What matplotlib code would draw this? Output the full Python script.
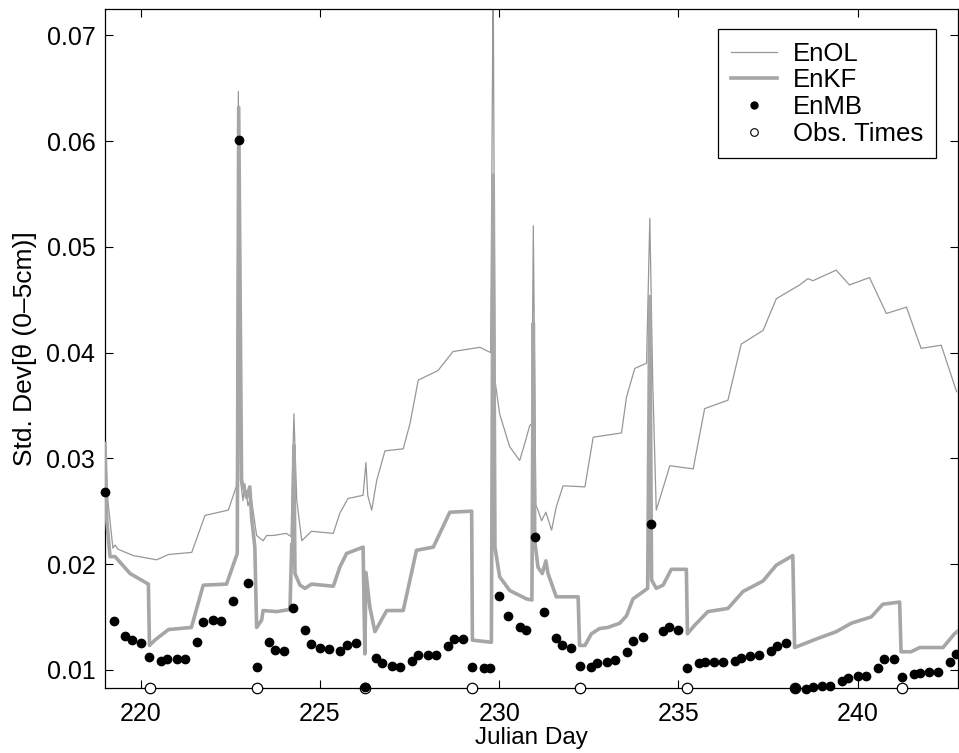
import matplotlib
matplotlib.use("Agg")
import matplotlib.pyplot as plt
from matplotlib.lines import Line2D

plt.rcParams['font.family'] = ['Liberation Sans', 'DejaVu Sans']

# open-loop ensemble spread
enol_day = [219.00, 219.08, 219.22, 219.28, 219.36, 219.79, 220.44, 220.77, 221.42, 221.79,
            222.44, 222.67, 222.72, 222.78, 222.85, 222.90, 222.99, 223.07, 223.23, 223.41,
            223.51, 223.69, 224.06, 224.19, 224.27, 224.35, 224.49, 224.76, 225.37, 225.55,
            225.78, 226.20, 226.28, 226.33, 226.44, 226.58, 226.81, 227.32, 227.51, 227.74,
            228.29, 228.71, 229.46, 229.76, 229.83, 229.88, 230.01, 230.29, 230.57, 230.71,
            230.85, 230.91, 230.95, 231.02, 231.08, 231.18, 231.30, 231.46, 231.59, 231.78,
            232.39, 232.62, 233.41, 233.55, 233.78, 234.11, 234.20, 234.28, 234.38, 234.76,
            235.41, 235.73, 236.38, 236.75, 237.36, 237.73, 238.38, 238.61, 238.75, 239.40,
            239.77, 240.33, 240.80, 241.36, 241.77, 242.33, 242.76]
enol_std = [0.0315, 0.0260, 0.0215, 0.0218, 0.0214, 0.0208, 0.0204, 0.0209, 0.0211, 0.0246,
            0.0251, 0.0274, 0.0647, 0.0279, 0.0260, 0.0276, 0.0255, 0.0265, 0.0227, 0.0222,
            0.0227, 0.0227, 0.0229, 0.0226, 0.0342, 0.0260, 0.0222, 0.0231, 0.0229, 0.0248,
            0.0262, 0.0265, 0.0296, 0.0265, 0.0251, 0.0279, 0.0307, 0.0309, 0.0333, 0.0374,
            0.0383, 0.0401, 0.0405, 0.0400, 0.0760, 0.0374, 0.0342, 0.0311, 0.0298, 0.0314,
            0.0331, 0.0333, 0.0520, 0.0256, 0.0251, 0.0241, 0.0249, 0.0232, 0.0254, 0.0274,
            0.0273, 0.0320, 0.0324, 0.0358, 0.0385, 0.0390, 0.0527, 0.0374, 0.0251, 0.0293,
            0.0290, 0.0347, 0.0355, 0.0408, 0.0421, 0.0451, 0.0464, 0.0470, 0.0468, 0.0478,
            0.0464, 0.0471, 0.0437, 0.0443, 0.0404, 0.0407, 0.0363]

# ensemble Kalman filter spread
enkf_day = [219.00, 219.05, 219.14, 219.28, 219.70, 220.21, 220.24, 220.39, 220.77, 221.41,
            221.74, 222.39, 222.69, 222.73, 222.81, 222.95, 223.04, 223.09, 223.18, 223.23,
            223.37, 223.41, 223.79, 224.16, 224.21, 224.23, 224.27, 224.30, 224.44, 224.58,
            224.76, 225.37, 225.55, 225.74, 226.20, 226.25, 226.28, 226.39, 226.53, 226.86,
            227.32, 227.69, 228.16, 228.62, 229.23, 229.25, 229.78, 229.83, 229.88, 230.01,
            230.29, 230.76, 230.91, 230.95, 230.99, 231.08, 231.20, 231.30, 231.36, 231.59,
            232.20, 232.24, 232.39, 232.57, 232.80, 233.03, 233.36, 233.55, 233.73, 234.06,
            234.14, 234.20, 234.25, 234.38, 234.57, 234.80, 235.22, 235.25, 235.45, 235.82,
            236.38, 236.80, 237.36, 237.73, 238.19, 238.24, 238.84, 239.40, 239.82, 240.38,
            240.70, 241.17, 241.21, 241.49, 241.73, 242.38, 242.70, 242.81]
enkf_std = [0.0314, 0.0241, 0.0207, 0.0207, 0.0191, 0.0181, 0.0123, 0.0128, 0.0138, 0.0140,
            0.0180, 0.0181, 0.0210, 0.0632, 0.0279, 0.0263, 0.0273, 0.0244, 0.0216, 0.0140,
            0.0147, 0.0156, 0.0155, 0.0157, 0.0219, 0.0203, 0.0312, 0.0191, 0.0180, 0.0177,
            0.0181, 0.0179, 0.0197, 0.0210, 0.0216, 0.0115, 0.0192, 0.0159, 0.0136, 0.0156,
            0.0156, 0.0213, 0.0216, 0.0249, 0.0250, 0.0128, 0.0126, 0.0568, 0.0216, 0.0188,
            0.0175, 0.0167, 0.0166, 0.0428, 0.0222, 0.0197, 0.0191, 0.0203, 0.0191, 0.0169,
            0.0169, 0.0123, 0.0123, 0.0134, 0.0139, 0.0140, 0.0144, 0.0151, 0.0167, 0.0175,
            0.0177, 0.0453, 0.0185, 0.0177, 0.0180, 0.0195, 0.0195, 0.0134, 0.0142, 0.0155,
            0.0158, 0.0174, 0.0184, 0.0199, 0.0208, 0.0121, 0.0129, 0.0136, 0.0144, 0.0150,
            0.0162, 0.0164, 0.0117, 0.0117, 0.0121, 0.0121, 0.0134, 0.0137]

# ensemble moment-based estimates
enmb_day = [219.00, 219.24, 219.57, 219.74, 220.00, 220.24, 220.57, 220.74,
            221.00, 221.24, 221.57, 221.74, 222.00, 222.24, 222.57, 222.73,
            223.00, 223.24, 223.57, 223.74, 224.00, 224.24, 224.57, 224.74,
            225.00, 225.24, 225.57, 225.74, 226.00, 226.25, 226.57, 226.74,
            227.00, 227.24, 227.57, 227.74, 228.00, 228.24, 228.57, 228.74,
            229.00, 229.24, 229.57, 229.74, 230.00, 230.24, 230.57, 230.74,
            231.00, 231.24, 231.57, 231.74, 232.00, 232.24, 232.57, 232.74,
            233.00, 233.24, 233.57, 233.74, 234.00, 234.24, 234.57, 234.74,
            235.00, 235.25, 235.57, 235.74, 236.00, 236.24, 236.57, 236.74,
            237.00, 237.24, 237.57, 237.74, 238.00, 238.25, 238.57, 238.74,
            239.00, 239.24, 239.57, 239.74, 240.00, 240.24, 240.57, 240.74,
            241.00, 241.24, 241.57, 241.74, 242.00, 242.24, 242.57, 242.74]
enmb_std = [0.0268, 0.0146, 0.0132, 0.0128, 0.0125, 0.0112, 0.0108, 0.0110,
            0.0110, 0.0110, 0.0126, 0.0145, 0.0147, 0.0146, 0.0165, 0.0601,
            0.0182, 0.0103, 0.0126, 0.0119, 0.0118, 0.0158, 0.0138, 0.0124,
            0.0121, 0.0120, 0.0118, 0.0123, 0.0125, 0.0084, 0.0111, 0.0106,
            0.0104, 0.0103, 0.0108, 0.0114, 0.0114, 0.0114, 0.0122, 0.0129,
            0.0129, 0.0103, 0.0102, 0.0102, 0.0170, 0.0151, 0.0140, 0.0138,
            0.0226, 0.0155, 0.0130, 0.0123, 0.0121, 0.0104, 0.0103, 0.0106,
            0.0107, 0.0109, 0.0117, 0.0127, 0.0131, 0.0238, 0.0137, 0.0140,
            0.0138, 0.0102, 0.0106, 0.0107, 0.0107, 0.0107, 0.0108, 0.0111,
            0.0113, 0.0114, 0.0118, 0.0122, 0.0125, 0.0083, 0.0082, 0.0084,
            0.0085, 0.0085, 0.0089, 0.0092, 0.0094, 0.0094, 0.0102, 0.0110,
            0.0110, 0.0093, 0.0096, 0.0097, 0.0098, 0.0098, 0.0107, 0.0115]

obs_day = [220.25, 223.25, 226.25, 229.25, 232.25, 235.25, 238.25, 241.25]

XLIM = (219.0, 242.8)
YLIM = (0.0083, 0.0725)

fig = plt.figure(figsize=(9.59, 7.53), dpi=100)
ax = fig.add_axes([0.1095, 0.0867, 0.8895, 0.9013])

ax.plot(enol_day, enol_std, color='#979797', lw=0.9, zorder=2)
ax.plot(enkf_day, enkf_std, color='#a6a6a6', lw=2.6, zorder=3)
ax.plot(obs_day, [YLIM[0]] * len(obs_day), 'o', ms=7.5, mfc='white', mec='black',
        mew=0.9, clip_on=False, zorder=4)
ax.plot(enmb_day, enmb_std, 'o', ms=6, color='black', clip_on=False, zorder=5)

ax.set_xlim(*XLIM)
ax.set_ylim(*YLIM)
ax.set_xticks([220, 225, 230, 235, 240])
ax.set_yticks([0.01, 0.02, 0.03, 0.04, 0.05, 0.06, 0.07])
ax.set_yticklabels(['0.01', '0.02', '0.03', '0.04', '0.05', '0.06', '0.07'])
ax.tick_params(direction='in', length=6, width=0.8, labelsize=18,
               top=True, right=True)
ax.tick_params(axis='x', pad=10)
ax.tick_params(axis='y', pad=7)
for sp in ax.spines.values():
    sp.set_linewidth(0.9)

ax.set_xlabel('Julian Day', fontsize=17.5, labelpad=1)
ax.set_ylabel('Std. Dev[θ (0–5cm)]', fontsize=19, labelpad=7)

handles = [
    Line2D([], [], color='#979797', lw=0.9),
    Line2D([], [], color='#a6a6a6', lw=2.6),
    Line2D([], [], ls='none', marker='o', ms=5, color='black'),
    Line2D([], [], ls='none', marker='o', ms=5.5, mfc='white', mec='black', mew=0.8),
]
leg = ax.legend(handles, ['EnOL', 'EnKF', 'EnMB', 'Obs. Times'],
                loc='upper right', bbox_to_anchor=(0.974, 0.9705),
                fontsize=18.5, frameon=True, fancybox=False, framealpha=1,
                handlelength=1.8, handletextpad=0.6, borderpad=0.5,
                labelspacing=0.1, borderaxespad=0)
leg.get_frame().set_edgecolor('black')
leg.get_frame().set_linewidth(0.9)

fig.savefig('out.png', dpi=100)
